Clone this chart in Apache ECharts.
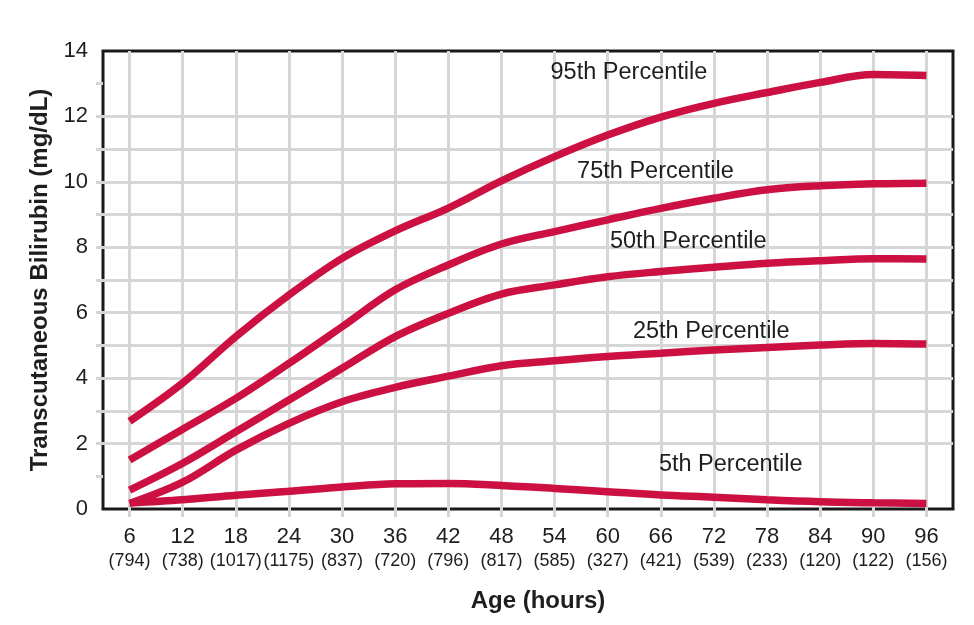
<!DOCTYPE html>
<html>
<head>
<meta charset="utf-8">
<script src="https://cdn.jsdelivr.net/npm/echarts@6/dist/echarts.min.js"></script>
<style>
  html, body { margin: 0; padding: 0; background: #fff; }
  #chart { width: 974px; height: 625px; }
</style>
</head>
<body>
<div id="chart"></div>
<script>
// age in hours and number of infants per age (shown in brackets)
var hours = [6, 12, 18, 24, 30, 36, 42, 48, 54, 60, 66, 72, 78, 84, 90, 96];
var counts = [794, 738, 1017, 1175, 837, 720, 796, 817, 585, 327, 421, 539, 233, 120, 122, 156];

// percentile curves, mg/dL
var p95 = [2.68, 3.85, 5.27, 6.54, 7.66, 8.50, 9.20, 10.03, 10.77, 11.43, 11.98, 12.40, 12.73, 13.04, 13.28, 13.25];
var p75 = [1.50, 2.44, 3.38, 4.45, 5.57, 6.70, 7.46, 8.10, 8.48, 8.84, 9.19, 9.50, 9.76, 9.88, 9.94, 9.96];
var p50 = [0.58, 1.40, 2.36, 3.33, 4.30, 5.27, 5.98, 6.57, 6.85, 7.10, 7.26, 7.39, 7.51, 7.59, 7.65, 7.64];
var p25 = [0.17, 0.82, 1.80, 2.62, 3.28, 3.72, 4.06, 4.38, 4.53, 4.66, 4.76, 4.86, 4.94, 5.01, 5.06, 5.04];
var p5 = [0.18, 0.28, 0.42, 0.54, 0.67, 0.77, 0.78, 0.72, 0.63, 0.53, 0.43, 0.36, 0.28, 0.22, 0.19, 0.17];

var yLabels = [0, 2, 4, 6, 8, 10, 12, 14];
var yGrid = [1, 2, 3, 4, 5, 6, 7, 8, 9, 10, 11, 12, 13];

var curveColor = '#cc1042';
var gridColor = '#d6d6d6';
var textColor = '#1e1e1e';
var font = '"Liberation Sans", Arial, sans-serif';

function pairs(values) {
  var out = [];
  for (var i = 0; i < hours.length; i++) {
    out.push([hours[i], values[i]]);
  }
  return out;
}

// curve name, values, where its label sits (hour, mg/dL)
var curves = [
  ['95th Percentile', p95, [62.4, 13.33]],
  ['75th Percentile', p75, [65.4, 10.33]],
  ['50th Percentile', p50, [69.1, 8.19]],
  ['25th Percentile', p25, [71.7, 5.44]],
  ['5th Percentile', p5, [73.9, 1.35]]
];

var series = [];
for (var i = 0; i < curves.length; i++) {
  series.push({
    name: curves[i][0],
    type: 'line',
    smooth: 0.35,
    symbol: 'none',
    data: pairs(curves[i][1]),
    lineStyle: { color: curveColor, width: 7.5, cap: 'butt' },
    markPoint: {
      symbol: 'circle',
      symbolSize: 0,
      silent: true,
      data: [{ coord: curves[i][2], value: curves[i][0] }],
      label: {
        show: true,
        position: 'inside',
        formatter: '{c}',
        color: textColor,
        fontFamily: font,
        fontSize: 23.5
      }
    }
  });
}

var myChart = echarts.init(document.getElementById('chart'));
var option = {
  animation: false,
  grid: {
    left: 103,
    right: 21,
    top: 51,
    bottom: 116,
    show: true,
    backgroundColor: '#fff',
    borderColor: '#1a1a1a',
    borderWidth: 3
  },
  xAxis: {
    type: 'value',
    min: 3,
    max: 99,
    name: 'Age (hours)',
    nameLocation: 'middle',
    nameGap: 80,
    nameTextStyle: { color: textColor, fontFamily: font, fontSize: 24, fontWeight: 'bold', padding: [0, 0, 0, 20] },
    axisLine: { show: false },
    axisTick: {
      show: true,
      customValues: hours,
      length: 8,
      lineStyle: { color: gridColor, width: 3 }
    },
    axisLabel: {
      customValues: hours,
      margin: 15,
      formatter: function (v) {
        var idx = hours.indexOf(v);
        return '{h|' + v + '}\n{n|(' + counts[idx] + ')}';
      },
      rich: {
        h: { fontFamily: font, fontSize: 22, color: textColor, lineHeight: 26 },
        n: { fontFamily: font, fontSize: 18, color: textColor, lineHeight: 22 }
      }
    },
    splitLine: { show: true, lineStyle: { color: gridColor, width: 3 } }
  },
  yAxis: {
    type: 'value',
    min: 0,
    max: 14,
    name: 'Transcutaneous Bilirubin (mg/dL)',
    nameLocation: 'middle',
    nameGap: 51,
    nameTextStyle: { color: textColor, fontFamily: font, fontSize: 24, fontWeight: 'bold' },
    axisLine: { show: false },
    axisTick: {
      show: true,
      customValues: yGrid,
      length: 7,
      lineStyle: { color: gridColor, width: 3 }
    },
    axisLabel: {
      customValues: yLabels,
      margin: 15,
      color: textColor,
      fontFamily: font,
      fontSize: 22
    },
    splitLine: { show: true, showMinLine: false, showMaxLine: false, lineStyle: { color: gridColor, width: 3 } }
  },
  series: series
};

if (option && typeof option == "object") {
  myChart.setOption(option, true);
}
</script>
</body>
</html>
